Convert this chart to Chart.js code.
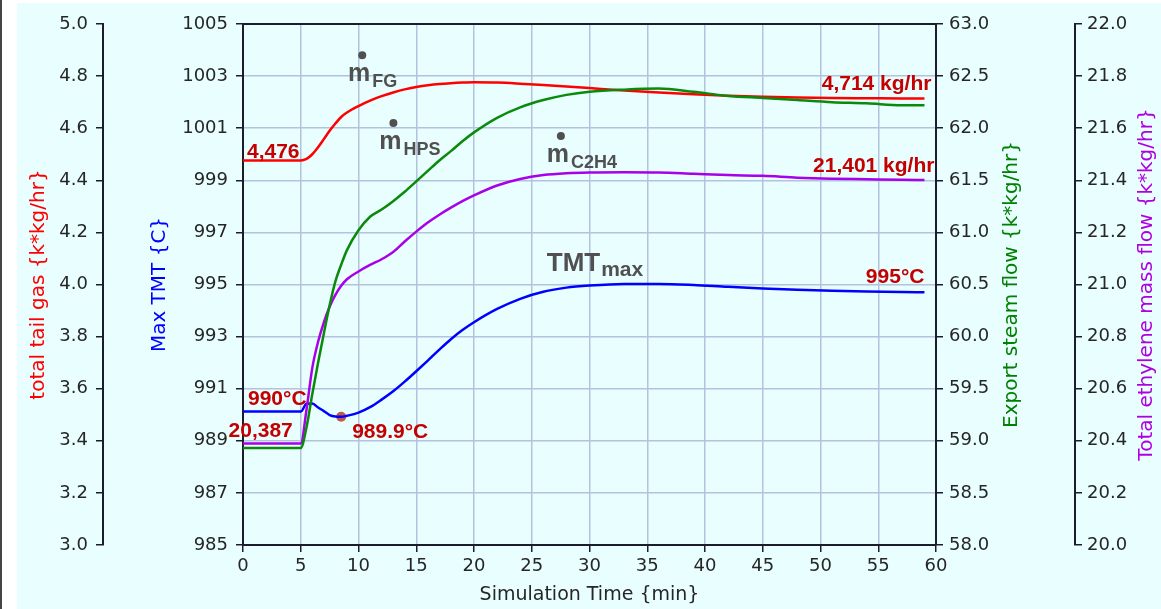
<!DOCTYPE html>
<html>
<head>
<meta charset="utf-8">
<script src="https://cdn.jsdelivr.net/npm/chart.js@4"></script>
<style>
  html, body { margin: 0; padding: 0; background: #fff; }
  #wrap { position: relative; width: 1161px; height: 609px; }
</style>
</head>
<body>
<div id="wrap"><canvas id="furnaceChart"></canvas></div>
<script>
// simulation time {min}
const time = [0, 5, 5.5, 6, 6.5, 7, 7.5, 8, 8.5, 9, 10, 11, 12, 13, 14, 15, 16, 17, 18, 19,
  20, 22, 24, 26, 28, 30, 33, 36, 39, 42, 45, 48, 51, 54, 57, 59];

// total tail gas {k*kg/hr}
const tailGas = [4.476, 4.476, 4.482, 4.500, 4.527, 4.558, 4.590, 4.618, 4.643, 4.660, 4.685,
  4.706, 4.723, 4.737, 4.749, 4.758, 4.765, 4.770, 4.773, 4.775, 4.776, 4.775, 4.771, 4.766,
  4.760, 4.754, 4.745, 4.737, 4.730, 4.725, 4.721, 4.718, 4.716, 4.715, 4.714, 4.714];

// max TMT {C}
const maxTmt = [990.12, 990.12, 990.42, 990.43, 990.28, 990.14, 989.99, 989.93, 989.92, 989.96,
  990.08, 990.29, 990.58, 990.90, 991.27, 991.67, 992.08, 992.50, 992.90, 993.25, 993.55,
  994.06, 994.45, 994.72, 994.88, 994.96, 995.02, 995.02, 994.98, 994.91, 994.85, 994.80,
  994.76, 994.73, 994.71, 994.70];

// export steam flow {k*kg/hr}
const steamFlow = [58.93, 58.93, 59.13, 59.45, 59.75, 60.03, 60.30, 60.53, 60.69, 60.83, 61.02,
  61.15, 61.22, 61.30, 61.39, 61.49, 61.59, 61.69, 61.78, 61.875, 61.96, 62.10, 62.20, 62.27,
  62.32, 62.35, 62.37, 62.38, 62.35, 62.31, 62.29, 62.27, 62.25, 62.24, 62.22, 62.22];

// total ethylene mass flow {k*kg/hr}
const ethylene = [20.39, 20.39, 20.52, 20.68, 20.78, 20.855, 20.915, 20.96, 20.995, 21.02, 21.05,
  21.075, 21.097, 21.125, 21.165, 21.203, 21.238, 21.268, 21.295, 21.32, 21.342, 21.38, 21.405,
  21.42, 21.427, 21.43, 21.431, 21.43, 21.425, 21.42, 21.417, 21.41, 21.406, 21.404, 21.402, 21.401];

// TMT minimum marker
const minTime = [8.5];
const minTmt = [989.92];

// tick labels
const timeTicks = [0, 5, 10, 15, 20, 25, 30, 35, 40, 45, 50, 55, 60];
const gasTicks = [3.0, 3.2, 3.4, 3.6, 3.8, 4.0, 4.2, 4.4, 4.6, 4.8, 5.0];
const tmtTicks = [985, 987, 989, 991, 993, 995, 997, 999, 1001, 1003, 1005];
const steamTicks = [58.0, 58.5, 59.0, 59.5, 60.0, 60.5, 61.0, 61.5, 62.0, 62.5, 63.0];
const ethTicks = [20.0, 20.2, 20.4, 20.6, 20.8, 21.0, 21.2, 21.4, 21.6, 21.8, 22.0];

const axisColor = '#1c1c2c';
const gridColor = '#b3c2de';
const tickColor = '#262626';
const labelRed = '#c40000';
const noteGray = '#505050';
const tickFont = { family: 'DejaVu Sans', size: 18 };
const titleFont = { family: 'DejaVu Sans', size: 19 };
const yTitleFont = { family: 'DejaVu Sans', size: 20 };

const toPoints = vals => time.map((t, i) => ({ x: t, y: vals[i] }));
const fixedTicks = list => scale => { scale.ticks = list.map(v => ({ value: v })); };
const fixWidth = w => scale => { scale.width = w; };

function yAxis(pos, weight, min, max, list, width, digits, pad, onArea) {
  return {
    position: pos, weight: weight, min: min, max: max,
    afterBuildTicks: fixedTicks(list),
    afterFit: fixWidth(width),
    grid: { drawOnChartArea: onArea, color: gridColor, lineWidth: 1.5,
            tickColor: axisColor, tickLength: 7, tickWidth: 1.5 },
    border: { color: axisColor, width: 2 },
    ticks: { color: tickColor, font: tickFont, padding: pad,
             callback: v => v.toFixed(digits) }
  };
}

function mDot(ctx, sub, x, y) {
  ctx.font = 'bold 25px "Liberation Sans", Arial, sans-serif';
  ctx.textAlign = 'left';
  ctx.fillText('m', x, y);
  const w = ctx.measureText('m').width;
  ctx.beginPath();
  ctx.arc(x + w / 2 + 3, y - 26, 4, 0, Math.PI * 2);
  ctx.fill();
  ctx.font = 'bold 18px "Liberation Sans", Arial, sans-serif';
  ctx.fillText(sub, x + w + 2, y + 6);
}

const decor = {
  id: 'decor',
  beforeDraw(chart) {
    const ctx = chart.ctx;
    ctx.save();
    ctx.fillStyle = '#ffffff';
    ctx.fillRect(0, 0, chart.width, chart.height);
    ctx.fillStyle = '#e9fefe';
    ctx.fillRect(17, 3, chart.width - 17, chart.height - 3);
    ctx.fillStyle = '#454545';
    ctx.fillRect(0, 0, 2, chart.height);
    ctx.restore();
  },
  afterDatasetsDraw(chart) {
    const ctx = chart.ctx;
    const x = chart.scales.x, g = chart.scales.yGas, t = chart.scales.yTmt, e = chart.scales.yEth;
    const end = time.length - 1;
    ctx.save();
    ctx.textBaseline = 'alphabetic';
    ctx.fillStyle = labelRed;
    ctx.font = 'bold 21px "Liberation Sans", Arial, sans-serif';
    ctx.textAlign = 'left';
    ctx.fillText('4,476', x.getPixelForValue(0) + 4, g.getPixelForValue(tailGas[0]) - 3);
    ctx.fillText('990°C', x.getPixelForValue(0) + 5, t.getPixelForValue(maxTmt[0]) - 7);
    ctx.fillText('989.9°C', x.getPixelForValue(minTime[0]) + 11, t.getPixelForValue(minTmt[0]) + 21);
    ctx.textAlign = 'right';
    ctx.fillText('20,387', x.getPixelForValue(5) - 8, e.getPixelForValue(ethylene[0]) - 6);
    ctx.fillText('4,714 kg/hr', x.getPixelForValue(time[end]) + 7, g.getPixelForValue(tailGas[end]) - 9);
    ctx.fillText('21,401 kg/hr', x.getPixelForValue(time[end]) + 10, e.getPixelForValue(ethylene[end]) - 8);
    ctx.fillText('995°C', x.getPixelForValue(time[end]), t.getPixelForValue(maxTmt[end]) - 9);

    // gray series names
    ctx.fillStyle = noteGray;
    mDot(ctx, 'FG', x.getPixelForValue(9.1), t.getPixelForValue(1002.8));
    mDot(ctx, 'HPS', x.getPixelForValue(11.8), t.getPixelForValue(1000.2));
    mDot(ctx, 'C2H4', x.getPixelForValue(26.3), t.getPixelForValue(999.7));
    const tx = x.getPixelForValue(26.3), ty = t.getPixelForValue(995.5);
    ctx.font = 'bold 26px "Liberation Sans", Arial, sans-serif';
    ctx.textAlign = 'left';
    ctx.fillText('TMT', tx, ty);
    const w = ctx.measureText('TMT').width;
    ctx.font = 'bold 21px "Liberation Sans", Arial, sans-serif';
    ctx.fillText('max', tx + w + 1, ty + 5);
    ctx.restore();
  },
  afterDraw(chart) {
    const ctx = chart.ctx;
    const area = chart.chartArea;
    ctx.save();
    // top frame line
    ctx.strokeStyle = axisColor;
    ctx.lineWidth = 2;
    ctx.beginPath();
    ctx.moveTo(area.left - 1, area.top);
    ctx.lineTo(area.right + 1, area.top);
    ctx.stroke();
    // right-hand axis titles, reading upward
    const cy = (area.top + area.bottom) / 2;
    const titles = [
      ['Export steam flow {k*kg/hr}', chart.scales.ySteam.right - 63, '#008000'],
      ['Total ethylene mass flow {k*kg/hr}', chart.scales.yEth.right - 14, '#b000e0']
    ];
    ctx.font = '20px "DejaVu Sans"';
    ctx.textAlign = 'center';
    ctx.textBaseline = 'middle';
    titles.forEach(([text, tx, color]) => {
      ctx.save();
      ctx.translate(tx, cy);
      ctx.rotate(-Math.PI / 2);
      ctx.fillStyle = color;
      ctx.fillText(text, 0, 0);
      ctx.restore();
    });
    ctx.restore();
  }
};

const ctx = document.getElementById('furnaceChart').getContext('2d');
new Chart(ctx, {
  type: 'line',
  data: {
    datasets: [{
      label: 'Export steam flow',
      data: toPoints(steamFlow),
      yAxisID: 'ySteam',
      borderColor: '#0a8a0a',
      borderWidth: 2.5
    }, {
      label: 'Total ethylene mass flow',
      data: toPoints(ethylene),
      yAxisID: 'yEth',
      borderColor: '#a800e8',
      borderWidth: 2.5
    }, {
      label: 'Max TMT',
      data: toPoints(maxTmt),
      yAxisID: 'yTmt',
      borderColor: '#0000ff',
      borderWidth: 2.5
    }, {
      label: 'Total tail gas',
      data: toPoints(tailGas),
      yAxisID: 'yGas',
      borderColor: '#ff0000',
      borderWidth: 2.5
    }, {
      label: 'TMT minimum',
      data: minTime.map((t, i) => ({ x: t, y: minTmt[i] })),
      yAxisID: 'yTmt',
      showLine: false,
      pointRadius: 5,
      pointBackgroundColor: 'rgba(185, 60, 40, 0.85)',
      pointBorderWidth: 0
    }]
  },
  options: {
    responsive: true,
    maintainAspectRatio: false,
    animation: false,
    layout: { padding: { left: 0, right: 0, top: 24, bottom: 0 } },
    elements: {
      line: { cubicInterpolationMode: 'monotone', fill: false },
      point: { radius: 0 }
    },
    plugins: { legend: { display: false }, tooltip: { enabled: false } },
    scales: {
      x: {
        type: 'linear', min: 0, max: 60,
        afterBuildTicks: fixedTicks(timeTicks),
        afterFit: scale => { scale.height = 64; },
        grid: { color: gridColor, lineWidth: 1.5, tickColor: axisColor, tickLength: 7, tickWidth: 1.5 },
        border: { color: axisColor, width: 2 },
        ticks: { color: tickColor, font: tickFont, padding: 4, maxRotation: 0 },
        title: { display: true, text: 'Simulation Time {min}', color: tickColor, font: titleFont,
                 padding: { top: 0, bottom: 3 } }
      },
      yTmt: Object.assign(yAxis('left', 0, 985, 1005, tmtTicks, 140, 0, 8, true), {
        title: { display: true, text: 'Max TMT {C}', color: '#0000ff', font: yTitleFont,
                 padding: { top: 45, bottom: 0 } }
      }),
      yGas: Object.assign(yAxis('left', 1, 3, 5, gasTicks, 103, 1, 8, false), {
        title: { display: true, text: 'total tail gas {k*kg/hr}', color: '#ff0000', font: yTitleFont,
                 padding: { top: 27, bottom: 0 } }
      }),
      ySteam: yAxis('right', 0, 58, 63, steamTicks, 139, 1, 6, false),
      yEth: yAxis('right', 1, 20, 22, ethTicks, 86, 1, 5, false)
    }
  },
  plugins: [decor]
});
</script>
</body>
</html>
